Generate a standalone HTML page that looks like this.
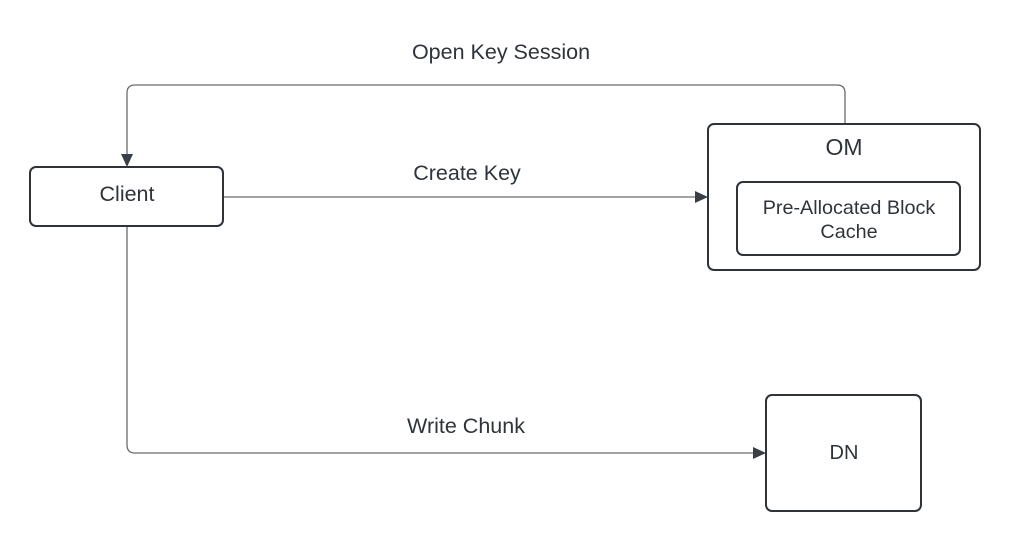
<!DOCTYPE html>
<html><head><style>
body{margin:0;background:#fff;}
svg text{font-family:"Liberation Sans",Arial,sans-serif;fill:#2f343b;}
</style></head><body>
<svg width="1014" height="544" xmlns="http://www.w3.org/2000/svg">
<rect width="1014" height="544" fill="#fff"/>
<g fill="none" stroke="#676b73" stroke-width="1.3">
<path d="M845 124 V93 Q845 85 837 85 H135 Q127 85 127 93 V156"/>
<path d="M223 197 H697"/>
<path d="M127 226 V445 Q127 453 135 453 H755"/>
</g>
<g fill="#3a3f47">
<path d="M121 154 L133 154 L127 167 Z"/>
<path d="M695 191 L695 203 L708 197 Z"/>
<path d="M753 447 L753 459 L766 453 Z"/>
</g>
<g fill="#fff" stroke="#2e3338" stroke-width="2">
<rect x="30" y="167" width="193" height="59" rx="6"/>
<rect x="708" y="124" width="272" height="146" rx="6"/>
<rect x="737" y="182" width="223" height="73" rx="6"/>
<rect x="766" y="395" width="155" height="116" rx="6"/>
</g>
<g font-size="21.5" text-anchor="middle">
<text x="127" y="201">Client</text>
<text x="844" y="155" font-size="23">OM</text>
<text x="849" y="214" font-size="19.8">Pre-Allocated Block</text>
<text x="849" y="238" font-size="19.8">Cache</text>
<text x="844" y="459" font-size="20">DN</text>
<text x="501" y="59">Open Key Session</text>
<text x="467" y="180">Create Key</text>
<text x="466" y="433">Write Chunk</text>
</g>
</svg>
</body></html>
